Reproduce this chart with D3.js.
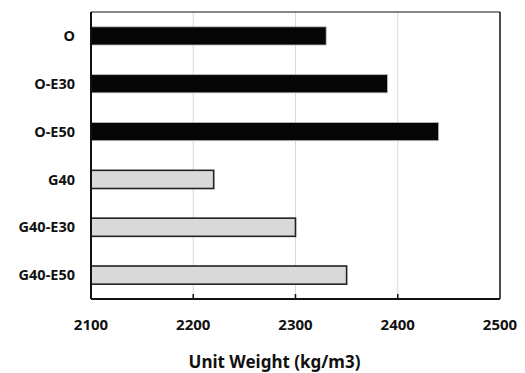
<!doctype html>
<html>
<head>
  <script src="https://cdnjs.cloudflare.com/ajax/libs/d3/7.8.5/d3.min.js"></script>
  <style>
    body { margin: 0; background: #fff; }
    text { font-family: "Noto Sans", "Open Sans", sans-serif; font-weight: bold; fill: #111; }
  </style>
</head>
<body>
  <svg id="chart" width="525" height="373"></svg>
  <script>
var categories = ["O", "O-E30", "O-E50", "G40", "G40-E30", "G40-E50"];
var weights = [2330, 2390, 2440, 2220, 2300, 2350];
var groups = ["plain", "plain", "plain", "geo", "geo", "geo"];
var xTicks = [2100, 2200, 2300, 2400, 2500];

var margin = {top: 12, right: 25, bottom: 74, left: 91};
var width = 525 - margin.left - margin.right;
var height = 373 - margin.top - margin.bottom;

var svg = d3.select("#chart");
var g = svg.append("g").attr("transform", `translate(${margin.left},${margin.top})`);

var x = d3.scaleLinear().domain([2100, 2500]).range([0, width]);
var y = d3.scaleBand().domain(categories).range([0, height]).paddingInner(0.62).paddingOuter(0.31);

// gridlines
g.selectAll(".grid")
  .data(xTicks.slice(1, -1))
  .enter().append("line")
  .attr("x1", d => x(d)).attr("x2", d => x(d))
  .attr("y1", 0).attr("y2", height)
  .style("stroke", "#d9d9d9").style("stroke-width", 1);

// bars
g.selectAll(".bar")
  .data(categories)
  .enter().append("rect")
  .attr("x", x(2100))
  .attr("y", d => y(d))
  .attr("height", y.bandwidth())
  .attr("width", (d, i) => x(weights[i]) - x(2100))
  .style("fill", (d, i) => groups[i] == "plain" ? "#050505" : "#d9d9d9")
  .style("stroke", (d, i) => groups[i] == "plain" ? "#bbb" : "#222")
  .style("stroke-width", (d, i) => groups[i] == "plain" ? 0.8 : 1.6);

// frame
g.append("line").attr("x1", 0).attr("x2", width).attr("y1", 0).attr("y2", 0)
  .style("stroke", "#111").style("stroke-width", 1.2);
g.append("line").attr("x1", width).attr("x2", width).attr("y1", 0).attr("y2", height)
  .style("stroke", "#111").style("stroke-width", 1.5);
g.append("line").attr("x1", 0).attr("x2", 0).attr("y1", 0).attr("y2", height)
  .style("stroke", "#111").style("stroke-width", 2);
g.append("line").attr("x1", 0).attr("x2", width).attr("y1", height).attr("y2", height)
  .style("stroke", "#111").style("stroke-width", 2);

// inner ticks on bottom
g.selectAll(".tick")
  .data(xTicks.slice(1, -1))
  .enter().append("line")
  .attr("x1", d => x(d)).attr("x2", d => x(d))
  .attr("y1", height).attr("y2", height - 5)
  .style("stroke", "#111").style("stroke-width", 1.5);

// tick labels
g.selectAll(".xlab")
  .data(xTicks)
  .enter().append("text")
  .attr("x", d => x(d))
  .attr("y", height + 31)
  .attr("text-anchor", "middle")
  .style("font-size", "15px")
  .text(d => d);

// category labels
g.selectAll(".ylab")
  .data(categories)
  .enter().append("text")
  .attr("x", -16)
  .attr("y", d => y(d) + y.bandwidth() / 2)
  .attr("dy", "0.36em")
  .attr("text-anchor", "end")
  .style("font-size", "14.5px")
  .text(d => d);

// axis title (sits a bit left of the plot centre in the original)
g.append("text")
  .attr("x", width / 2 - 21)
  .attr("y", height + 69)
  .attr("text-anchor", "middle")
  .style("font-size", "17px")
  .text("Unit Weight (kg/m3)");
  </script>
</body>
</html>
